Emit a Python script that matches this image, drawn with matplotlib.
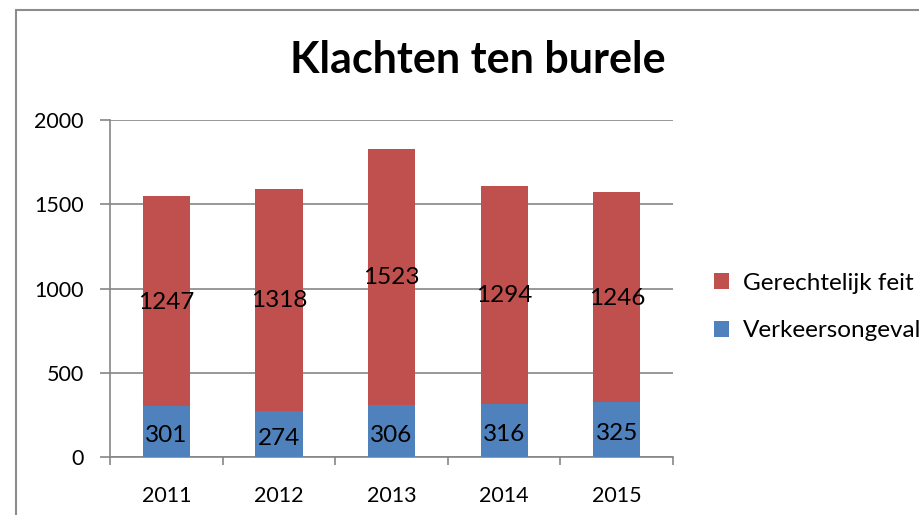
import numpy as np
import matplotlib
matplotlib.use('Agg')
import matplotlib.pyplot as plt
from matplotlib.patches import Rectangle

plt.rcParams['font.family'] = ['Lato', 'DejaVu Sans']

years = ['2011', '2012', '2013', '2014', '2015']
verkeer = [301, 274, 306, 316, 325]
gerecht = [1247, 1318, 1523, 1294, 1246]
yticks = [0, 500, 1000, 1500, 2000]

red = '#C0504D'
blue = '#4F81BD'
grid = '#868686'

fig = plt.figure(figsize=(9.2, 5.15), dpi=100, facecolor='w')
ax = fig.add_axes([0.1196, 0.1126, 0.612, 0.6544])

x = np.arange(len(years))
w = 0.42
b1 = ax.bar(x, verkeer, w, color=blue, label='Verkeersongeval', zorder=3)
b2 = ax.bar(x, gerecht, w, bottom=verkeer, color=red, label='Gerechtelijk feit', zorder=3)

for i in range(len(years)):
    ax.text(x[i], verkeer[i] / 2.0 - 25, str(verkeer[i]), ha='center', va='center', fontsize=17.5, zorder=4)
    ax.text(x[i], verkeer[i] + gerecht[i] / 2.0 - 5, str(gerecht[i]), ha='center', va='center', fontsize=17.5, zorder=4)

ax.set_xlim(-0.5, len(years) - 0.5)
ax.set_ylim(0, 2000)
ax.set_yticks(yticks)
ax.set_yticklabels([str(t) for t in yticks], fontsize=15.5)
ax.yaxis.grid(True, color=grid, linewidth=1.2, zorder=0)
ax.set_axisbelow(True)

ax.set_xticks(np.arange(-0.5, len(years), 1.0))
ax.set_xticklabels([])
ax.set_xticks(x, minor=True)
ax.set_xticklabels(years, minor=True, fontsize=15.5)
ax.tick_params(axis='x', which='major', direction='out', length=6, color=grid, width=1.2)
ax.tick_params(axis='x', which='minor', length=0, pad=21)
ax.tick_params(axis='y', direction='out', length=7, color=grid, width=1.2, pad=12)

for s in ['top', 'right']:
    ax.spines[s].set_visible(False)
for s in ['left', 'bottom']:
    ax.spines[s].set_color(grid)
    ax.spines[s].set_linewidth(1.2)

fig.text(0.519, 0.883, 'Klachten ten burele', ha='center', va='center', fontsize=31, fontweight='bold')

handles, labels = ax.get_legend_handles_labels()
ax.legend(handles[::-1], labels[::-1], loc='center left', bbox_to_anchor=(1.073, 0.445),
          frameon=False, fontsize=17.5, handlelength=0.6, handleheight=0.6,
          handletextpad=0.6, labelspacing=1.1, borderpad=0, borderaxespad=0)

fig.patches.append(Rectangle((16 / 920.0, -0.1), 1.2, 1.1 - 10 / 515.0, transform=fig.transFigure,
                             fill=False, edgecolor='#8c8c8c', linewidth=1.5))

fig.savefig('out.png', dpi=100)
